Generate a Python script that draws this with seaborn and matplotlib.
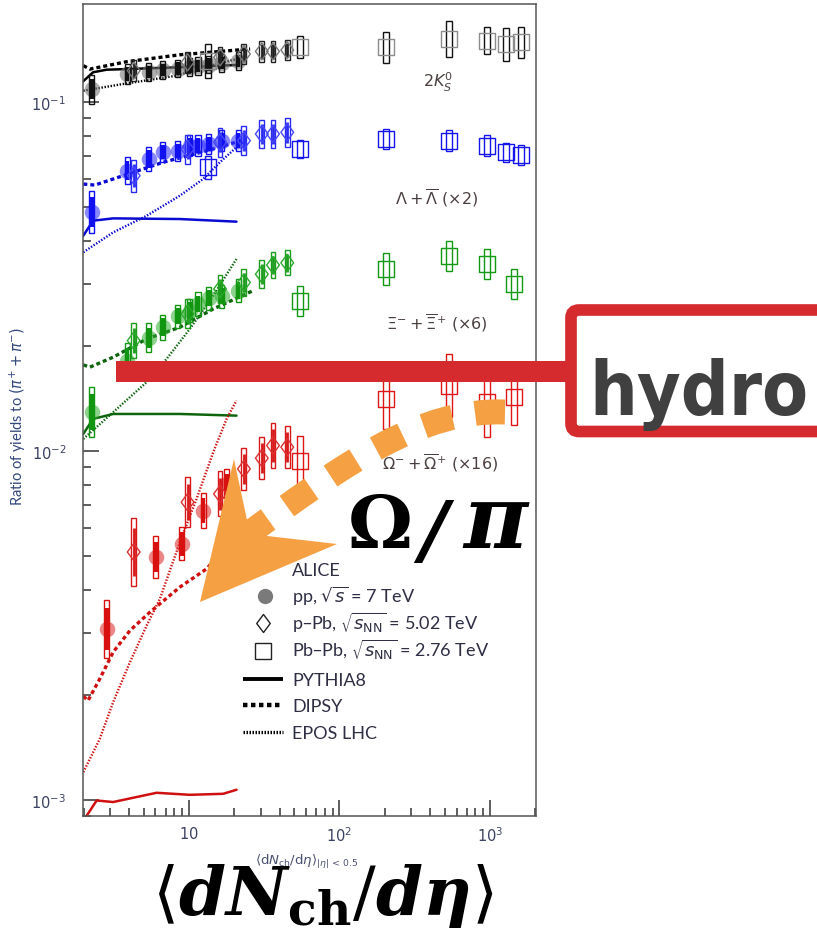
import matplotlib
matplotlib.use("Agg")
import matplotlib.pyplot as plt
import matplotlib.transforms as mtransforms
import matplotlib.font_manager as fm
from matplotlib.patches import Rectangle, Polygon, FancyBboxPatch, PathPatch
from matplotlib.path import Path
from matplotlib.lines import Line2D
from matplotlib.markers import MarkerStyle
from matplotlib.ticker import LogLocator, NullFormatter
from matplotlib.font_manager import FontProperties
from matplotlib.mathtext import MathTextParser
import numpy as np
import pandas as pd
import seaborn as sns

sns.set_theme(style="white")
plt.rcParams["font.family"] = ["Lato", "DejaVu Sans"]
plt.rcParams["mathtext.fontset"] = "dejavusans"

# ---------------- multiplicity classes <dNch/deta> ----------------
nch_pp = [2.26, 3.90, 5.40, 6.72, 8.45, 10.1, 11.5, 13.5, 16.5, 21.3]
nch_pp_omega = [2.84, 6.04, 8.94, 12.45, 17.8]
nch_ppb = [4.3, 9.8, 16.1, 23.2, 30.5, 36.2, 45.0]
nch_pbpb = [13.4, 55, 205, 535, 955, 1276, 1600]
nch_pbpb_multi = [55, 205, 535, 955, 1440]

# ---------------- 2K0S / (pi+ + pi-) ----------------
k0s_pp = [0.1089, 0.1203, 0.1219, 0.1235, 0.1247, 0.1260, 0.1268, 0.1281, 0.1293, 0.1311]
k0s_pp_sys = [0.10, 0.07, 0.06, 0.06, 0.06, 0.06, 0.06, 0.06, 0.06, 0.06]
k0s_ppb = [0.1230, 0.1300, 0.1343, 0.1373, 0.1397, 0.1397, 0.1409]
k0s_ppb_sys = [0.07, 0.07, 0.07, 0.07, 0.07, 0.07, 0.07]
k0s_pbpb = [0.1313, 0.1435, 0.1435, 0.1516, 0.1499, 0.1466, 0.1483]
k0s_pbpb_sys = [0.12, 0.075, 0.11, 0.125, 0.095, 0.115, 0.11]

# ---------------- (Lambda + anti-Lambda) x2 ----------------
lam_pp = [0.0483, 0.0636, 0.0687, 0.0718, 0.0725, 0.0750, 0.0750, 0.0758, 0.0775, 0.0775]
lam_pp_sys = [0.15, 0.095, 0.085, 0.07, 0.07, 0.07, 0.07, 0.07, 0.07, 0.07]
lam_ppb = [0.0615, 0.0733, 0.0767, 0.0775, 0.0810, 0.0810, 0.0819]
lam_ppb_sys = [0.11, 0.10, 0.10, 0.10, 0.10, 0.10, 0.10]
lam_pbpb = [0.0650, 0.0733, 0.0783, 0.0775, 0.0750, 0.0718, 0.0705]
lam_pbpb_sys = [0.08, 0.06, 0.07, 0.07, 0.07, 0.065, 0.07]

# ---------------- (Xi- + anti-Xi+) x6 ----------------
xi_pp = [0.01296, 0.01814, 0.02108, 0.02262, 0.02432, 0.02523, 0.02637, 0.02739, 0.02776, 0.02880]
xi_pp_sys = [0.18, 0.12, 0.10, 0.085, 0.08, 0.08, 0.08, 0.08, 0.08, 0.08]
xi_ppb = [0.0207, 0.0247, 0.0291, 0.0304, 0.0321, 0.0341, 0.0346]
xi_ppb_sys = [0.12, 0.10, 0.10, 0.095, 0.095, 0.09, 0.085]
xi_pbpb = [0.02696, 0.03323, 0.03614, 0.03434, 0.03009]
xi_pbpb_sys = [0.105, 0.11, 0.105, 0.105, 0.105]

# ---------------- (Omega- + anti-Omega+) x16 ----------------
om_pp = [0.00309, 0.00496, 0.00541, 0.00674, 0.00804]
om_pp_sys = [0.21, 0.15, 0.115, 0.12, 0.10]
om_ppb = [0.00513, 0.00713, 0.00753, 0.00888, 0.00953, 0.01036, 0.01025]
om_ppb_sys = [0.25, 0.18, 0.16, 0.15, 0.15, 0.16, 0.15]
om_pbpb = [0.00938, 0.01409, 0.01538, 0.01379, 0.01425]
om_pbpb_sys = [0.18, 0.22, 0.23, 0.26, 0.20]

# ---------------- MC generators ----------------
k0s_pythia_x = [1.99, 2.31, 2.84, 3.86, 8.71, 20.7]
k0s_pythia = [0.1148, 0.1217, 0.1238, 0.1243, 0.1258, 0.1277]
k0s_dipsy_x = [1.99, 2.20, 3.86, 8.71, 20.7, 25.5]
k0s_dipsy = [0.1271, 0.1243, 0.1305, 0.1366, 0.1409, 0.1419]
k0s_epos_x = [1.99, 3.64, 8.28, 14.43, 20.7, 22.96]
k0s_epos = [0.1078, 0.1126, 0.1190, 0.1277, 0.1328, 0.1343]

lam_pythia_x = [1.99, 2.31, 3.14, 8.71, 20.7]
lam_pythia = [0.0414, 0.0457, 0.0464, 0.0462, 0.0454]
lam_dipsy_x = [1.99, 2.37, 3.66, 6.75, 13.11, 24.2]
lam_dipsy = [0.0582, 0.0578, 0.0615, 0.0672, 0.0725, 0.0783]
lam_epos_x = [1.99, 3.14, 5.24, 8.71, 12.45, 16.07, 20.7, 22.96]
lam_epos = [0.0371, 0.0423, 0.0472, 0.0539, 0.0602, 0.0672, 0.0742, 0.0767]

xi_pythia_x = [1.99, 2.31, 3.14, 8.71, 20.7]
xi_pythia = [0.01119, 0.01235, 0.01276, 0.01276, 0.01262]
xi_dipsy_x = [1.99, 2.20, 3.14, 5.24, 8.71, 14.5, 26.7]
xi_dipsy = [0.01764, 0.01738, 0.01856, 0.02094, 0.02262, 0.02552, 0.02880]
xi_epos_x = [1.99, 3.14, 5.24, 7.11, 10.15, 14.5, 20.7]
xi_epos = [0.01082, 0.01291, 0.01574, 0.01835, 0.02237, 0.02786, 0.03549]

om_pythia_x = [1.99, 2.44, 3.14, 6.10, 10.15, 16.9, 20.7]
om_pythia = [0.00087, 0.000995, 0.000985, 0.001047, 0.001033, 0.00104, 0.001068]
om_dipsy_x = [1.99, 2.14, 2.56, 3.14, 4.06, 5.51, 8.71, 13.11, 17.8, 26.7]
om_dipsy = [0.00198, 0.001925, 0.002222, 0.00265, 0.003055, 0.00345, 0.004069, 0.00459, 0.005354, 0.006385]
om_epos_x = [1.99, 2.56, 3.14, 4.06, 5.24, 6.42, 8.71, 11.25, 14.5, 17.8, 20.7]
om_epos = [0.0012, 0.001495, 0.001905, 0.00248, 0.003158, 0.003767, 0.005475, 0.00729, 0.00991, 0.01235, 0.01394]

x_ticks = [10, 100, 1000]
x_tick_labels = ["$10$", "$10^{2}$", "$10^{3}$"]
y_ticks = [1e-3, 1e-2, 1e-1]
y_tick_labels = ["$10^{-3}$", "$10^{-2}$", "$10^{-1}$"]

# ---------------- figure ----------------
W, H = 817, 929
DPI = 100
PIX = mtransforms.IdentityTransform()


def disp(px, py):
    """pixel position measured from the top-left corner -> display coords"""
    return (px, H - py)


fig = plt.figure(figsize=(W / DPI, H / DPI), dpi=DPI)
fig.patch.set_facecolor("white")
ax = fig.add_axes([83 / W, 1 - 816.7 / H, 453 / W, 811.7 / H])
ax.set_xscale("log")
ax.set_yscale("log")

DIAMOND = MarkerStyle(Path([(0, 1), (0.75, 0), (0, -1), (-0.75, 0), (0, 1)],
                           [Path.MOVETO, Path.LINETO, Path.LINETO, Path.LINETO, Path.CLOSEPOLY]))

STAT_FRAC = 0.7


def add_points(x, y, sys, kind, line_color, marker_color, alpha=1.0):
    fw = {"pp": 1.040, "ppb": 1.038, "pbpb": 1.048}[kind]
    lo = [yi / (1 + s) for yi, s in zip(y, sys)]
    hi = [yi * (1 + s) for yi, s in zip(y, sys)]
    for xi, l, h in zip(x, lo, hi):
        ax.add_patch(Rectangle((xi / fw, l), xi * fw - xi / fw, h - l, fill=False,
                               ec=line_color, lw=1.0, zorder=4))
    if kind != "pbpb":
        slo = [yi / (1 + STAT_FRAC * s) for yi, s in zip(y, sys)]
        shi = [yi * (1 + STAT_FRAC * s) for yi, s in zip(y, sys)]
        ax.vlines(x, slo, shi, colors=line_color, lw=3.0 if kind == "pp" else 2.0, zorder=5)
    df = pd.DataFrame({"nch": x, "ratio": y})
    if kind == "pp":
        sns.scatterplot(data=df, x="nch", y="ratio", ax=ax, marker="o", s=125,
                        color=marker_color, alpha=alpha, linewidth=0, zorder=3, legend=False)
    elif kind == "ppb":
        sns.scatterplot(data=df, x="nch", y="ratio", ax=ax, marker=DIAMOND, s=150,
                        color=marker_color, facecolor="none", edgecolor=marker_color,
                        linewidth=1.0, zorder=6, legend=False)
    else:
        sns.scatterplot(data=df, x="nch", y="ratio", ax=ax, marker="s", s=132,
                        color=marker_color, facecolor="none", edgecolor=marker_color,
                        linewidth=1.0, zorder=6, legend=False)


DIPSY_LS = (0, (1.2, 0.9))
EPOS_LS = (0, (0.6, 0.7))


def add_models(px, py, dx, dy, ex, ey, color):
    sns.lineplot(x=px, y=py, ax=ax, color=color, lw=1.8, estimator=None, sort=False, zorder=2)
    sns.lineplot(x=dx, y=dy, ax=ax, color=color, lw=2.4, linestyle=DIPSY_LS,
                 estimator=None, sort=False, zorder=2)
    sns.lineplot(x=ex, y=ey, ax=ax, color=color, lw=1.7, linestyle=EPOS_LS,
                 estimator=None, sort=False, zorder=2)


# K0S (black / grey)
add_models(k0s_pythia_x, k0s_pythia, k0s_dipsy_x, k0s_dipsy, k0s_epos_x, k0s_epos, "black")
add_points(nch_pp, k0s_pp, k0s_pp_sys, "pp", "#111111", "#7a7a7a", alpha=0.6)
add_points(nch_ppb, k0s_ppb, k0s_ppb_sys, "ppb", "#222222", "#777777")
add_points(nch_pbpb, k0s_pbpb, k0s_pbpb_sys, "pbpb", "#111111", "#8c8c8c")

# Lambda (blue)
add_models(lam_pythia_x, lam_pythia, lam_dipsy_x, lam_dipsy, lam_epos_x, lam_epos, "#0a0ad2")
add_points(nch_pp, lam_pp, lam_pp_sys, "pp", "#1010f0", "#3a3aff", alpha=0.6)
add_points(nch_ppb, lam_ppb, lam_ppb_sys, "ppb", "#2a2af5", "#4646ff")
add_points(nch_pbpb, lam_pbpb, lam_pbpb_sys, "pbpb", "#1515ee", "#1515ee")

# Xi (green)
add_models(xi_pythia_x, xi_pythia, xi_dipsy_x, xi_dipsy, xi_epos_x, xi_epos, "#0e650e")
add_points(nch_pp, xi_pp, xi_pp_sys, "pp", "#129612", "#2fae2f", alpha=0.55)
add_points(nch_ppb, xi_ppb, xi_ppb_sys, "ppb", "#1c9c1c", "#2aa82a")
add_points(nch_pbpb_multi, xi_pbpb, xi_pbpb_sys, "pbpb", "#119911", "#119911")

# Omega (red)
add_models(om_pythia_x, om_pythia, om_dipsy_x, om_dipsy, om_epos_x, om_epos, "#d01010")
add_points(nch_pp_omega, om_pp, om_pp_sys, "pp", "#d81010", "#e03535", alpha=0.6)
add_points(nch_ppb, om_ppb, om_ppb_sys, "ppb", "#d81818", "#dd3030")
add_points(nch_pbpb_multi, om_pbpb, om_pbpb_sys, "pbpb", "#e01515", "#e01515")

# ---------------- axes cosmetics ----------------
ax.set_xlim(1.98, 2020)
ax.set_ylim(9.0e-4, 0.191)
ax.grid(False)
ax.set_xticks(x_ticks)
ax.set_xticklabels(x_tick_labels)
ax.set_yticks(y_ticks)
ax.set_yticklabels(y_tick_labels)
ax.xaxis.set_minor_locator(LogLocator(base=10, subs=np.arange(2, 10), numticks=20))
ax.yaxis.set_minor_locator(LogLocator(base=10, subs=np.arange(2, 10), numticks=20))
ax.xaxis.set_minor_formatter(NullFormatter())
ax.yaxis.set_minor_formatter(NullFormatter())
tick_col = "#3b4262"
ax.tick_params(which="both", direction="in", bottom=True, left=True, top=False, right=False,
               color="#333333", width=1.1)
ax.tick_params(which="major", length=11.5, labelsize=10.5, labelcolor=tick_col)
ax.tick_params(axis="y", which="major", pad=12)
ax.tick_params(axis="x", which="major", pad=7)
ax.tick_params(which="minor", length=5.8)
for sp in ax.spines.values():
    sp.set_color("#555555")
    sp.set_linewidth(1.1)

ax.set_xlabel(r"$\langle \mathrm{d}N_{\mathrm{ch}}/\mathrm{d}\eta\rangle_{|\eta|\,<\,0.5}$",
              fontsize=9.5, color="#4a5070")
ax.xaxis.set_label_coords((307 - 83) / 453, (816.7 - 862) / 811.7)
ax.xaxis.label.set_va("center")
ax.set_ylabel(r"Ratio of yields to $(\pi^{+} + \pi^{-})$", fontsize=10.5, color="#34487e")
ax.yaxis.set_label_coords((18 - 83) / 453, (816.7 - 416) / 811.7)
ax.yaxis.label.set_va("center")

# species labels
lab_col = "#4b4040"
species = [
    (438, 82, r"$2K^{0}_{S}$"),
    (437, 198, r"$\Lambda + \overline{\Lambda}\ (\times 2)$"),
    (437, 323, r"$\Xi^{-} + \overline{\Xi}^{+}\ (\times 6)$"),
    (440, 463, r"$\Omega^{-} + \overline{\Omega}^{+}\ (\times 16)$"),
]
for px, py, s in species:
    fig.text(px / W, 1 - py / H, s, ha="center", va="center", fontsize=11.5, color=lab_col, zorder=5)

# ---------------- legend ----------------
leg_col = "#2e2e44"
leg_rows = [
    (576, "ALICE"),
    (603, r"pp, $\sqrt{s}$ = 7 TeV"),
    (630, r"p–Pb, $\sqrt{s_{\mathrm{NN}}}$ = 5.02 TeV"),
    (657, r"Pb–Pb, $\sqrt{s_{\mathrm{NN}}}$ = 2.76 TeV"),
    (686, "PYTHIA8"),
    (712, "DIPSY"),
    (739, "EPOS LHC"),
]
for py, s in leg_rows:
    fig.text(292 / W, 1 - py / H, s, ha="left", va="baseline", fontsize=13, color=leg_col, zorder=5)

fig.add_artist(Line2D([disp(265, 597)[0]], [disp(265, 597)[1]], marker="o", ms=11,
                      color="#7a7a7a", mec="none", ls="none", transform=PIX))
fig.add_artist(Line2D([disp(263, 624)[0]], [disp(263, 624)[1]], marker=DIAMOND, ms=13,
                      mfc="none", mec="#222222", mew=1.0, ls="none", transform=PIX))
fig.add_artist(Line2D([disp(263, 652)[0]], [disp(263, 652)[1]], marker="s", ms=11.5,
                      mfc="none", mec="#222222", mew=1.0, ls="none", transform=PIX))
for py, lw, ls in [(680, 2.8, "-"), (706, 3.2, (0, (1.0, 0.8))), (733, 2.4, (0, (0.45, 0.45)))]:
    fig.add_artist(Line2D([243, 283], [H - py, H - py], color="black", lw=lw, ls=ls,
                          solid_capstyle="butt", dash_capstyle="butt", transform=PIX))

# ---------------- overlay annotations ----------------
renderer = fig.canvas.get_renderer()


def fit_text(t, left, right):
    """scale a text so it spans [left, right] pixels and starts at left"""
    bb = t.get_window_extent(renderer)
    t.set_fontsize(t.get_fontsize() * (right - left) / bb.width)
    bb = t.get_window_extent(renderer)
    x, y = t.get_position()
    t.set_position((x + (left - bb.x0) / W, y))


def narrow_bold():
    options = [("Liberation Sans Narrow", "normal"), ("DejaVu Sans", "condensed"),
               ("DejaVu Sans Condensed", "normal"), ("Open Sans Condensed", "normal"),
               ("Roboto Condensed", "normal")]
    for fam, stretch in options:
        try:
            p = fm.findfont(FontProperties(family=fam, weight="bold", stretch=stretch),
                            fallback_to_default=False)
        except ValueError:
            continue
        if "narrow" in p.lower() or "condensed" in p.lower():
            return FontProperties(fname=p)
    return FontProperties(family="Open Sans", weight="bold")


red = "#d62b2e"
orange = "#f6a044"
fig.add_artist(Rectangle(disp(116, 383), 575 - 116, 21.5, fc=red, ec="none",
                         transform=PIX, zorder=9))
fig.add_artist(FancyBboxPatch(disp(571, 432.5), 280, 121.5,
                              boxstyle="round,pad=0,rounding_size=8",
                              fc="white", ec=red, lw=8.4, transform=PIX, zorder=10))
hydro = fig.text(590 / W, 1 - 415 / H, "hydro", ha="left", va="baseline",
                 fontproperties=narrow_bold(), color="#404040", zorder=12)
hydro.set_fontsize(66)
fit_text(hydro, 589, 808)

arc = Path([disp(505, 413), disp(420, 410), disp(345, 465), disp(248, 535)],
           [Path.MOVETO, Path.CURVE4, Path.CURVE4, Path.CURVE4])
fig.add_artist(PathPatch(arc, fill=False, ec=orange, lw=18, linestyle=(0, (1.2, 0.92)),
                         capstyle="butt", transform=PIX, zorder=10))
fig.add_artist(Polygon([disp(200, 603), disp(234, 460), disp(250, 535), disp(337, 545)],
                       closed=True, fc=orange, ec="none", transform=PIX, zorder=10))

omega = fig.text(348 / W, 1 - 548 / H, "Ω", ha="left", va="baseline", fontsize=62,
                 family="DejaVu Serif", fontweight="bold", color="black", zorder=12)
fit_text(omega, 348, 413)
slash = fig.text(420 / W, 1 - 548 / H, "/", ha="left", va="baseline",
                 fontsize=omega.get_fontsize(), family="DejaVu Serif", fontweight="bold",
                 style="italic", color="black", zorder=12)
fit_text(slash, 419, 459)
slash.set_fontsize(omega.get_fontsize() * 1.05)
bb = slash.get_window_extent(renderer)
slash.set_position((slash.get_position()[0] + (419 - bb.x0) / W, 1 - 556 / H))
pi_t = fig.text(463 / W, 1 - 548 / H, "π", ha="left", va="baseline", fontsize=62,
                family="DejaVu Serif", fontweight="bold", style="italic",
                color="black", zorder=12)
fit_text(pi_t, 463, 527)

# bold-italic mathtext if available
try:
    MathTextParser("path").parse(r"$\mathbfit{d}$", 72,
                                 FontProperties(math_fontfamily="dejavuserif"))
    big_label = r"$\langle \mathbfit{dN}_{\mathbf{ch}}/\mathbfit{d\eta}\rangle$"
except Exception:
    big_label = r"$\langle \mathit{dN}_{\mathbf{ch}}/\mathit{d\eta}\rangle$"
big = fig.text(152 / W, 1 - 915 / H, big_label, ha="left", va="baseline", fontsize=49,
               math_fontfamily="dejavuserif", color="black", zorder=12)
fit_text(big, 152, 493)

fig.savefig("out.png", dpi=DPI)
